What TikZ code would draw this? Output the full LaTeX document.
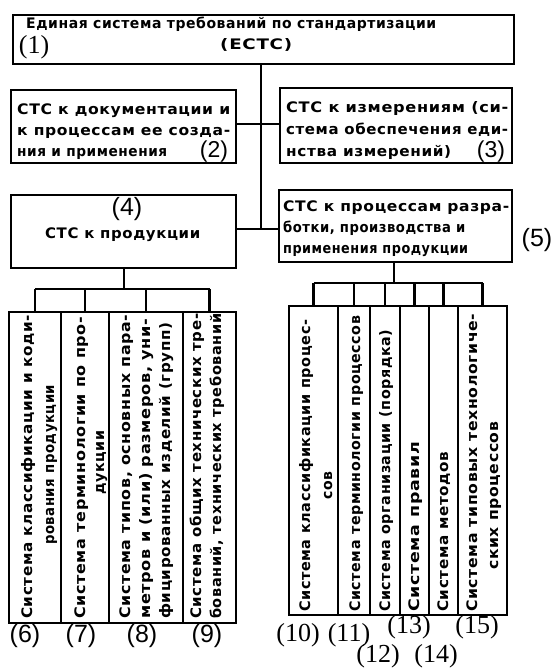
\documentclass[tikz,border=0pt]{standalone}
\usepackage{fontspec}
\usepackage{graphicx}
\setmainfont{DejaVu Sans}
\newfontfamily\txf[LetterSpace=4]{DejaVu Sans}
\newfontfamily\numf{Liberation Sans}
\newfontfamily\numsf{Liberation Serif}
\newcommand\fitl[2]{\resizebox{#1pt}{\height}{#2}}
\begin{document}
\begin{tikzpicture}[x=1pt,y=-1pt,
  box/.style={draw,line width=2.4pt,inner sep=0pt},
  conn/.style={line width=2.1pt},
  tl/.style={anchor=base west,inner sep=0pt,font=\txf\bfseries\fontsize{14.5}{14.5}\selectfont},
  tv/.style={tl,rotate=90},
  num/.style={inner sep=0pt,font=\numf\fontsize{25}{25}\selectfont},
  numin/.style={inner sep=0pt,font=\numf\fontsize{23}{23}\selectfont},
  nums/.style={inner sep=0pt,font=\numsf\fontsize{26}{26}\selectfont}]
\useasboundingbox[fill=white] (0,0) rectangle (555,671);
% boxes
\node[box,minimum width=501pt,minimum height=49pt] (top) at (263.5,39.5) {};
\node[box,minimum width=225pt,minimum height=73pt] (b2) at (123.5,126.5) {};
\node[box,minimum width=232pt,minimum height=75pt] (b3) at (396,125.5) {};
\node[box,minimum width=225pt,minimum height=73pt] (b4) at (123.5,231.5) {};
\node[box,minimum width=233pt,minimum height=72pt] (b5) at (395.5,226) {};
\node[box,minimum width=52pt,minimum height=311pt] (v6) at (35,467.5) {};
\node[box,minimum width=48pt,minimum height=311pt] (v7) at (85,467.5) {};
\node[box,minimum width=74pt,minimum height=311pt] (v8) at (146,467.5) {};
\node[box,minimum width=53pt,minimum height=311pt] (v9) at (209.5,467.5) {};
\node[box,minimum width=49pt,minimum height=309pt] (v10) at (313.5,460.5) {};
\node[box,minimum width=32pt,minimum height=309pt] (v11) at (354,460.5) {};
\node[box,minimum width=30pt,minimum height=309pt] (v12) at (385,460.5) {};
\node[box,minimum width=29pt,minimum height=309pt] (v13) at (414.5,460.5) {};
\node[box,minimum width=29pt,minimum height=309pt] (v14) at (443.5,460.5) {};
\node[box,minimum width=49pt,minimum height=309pt] (v15) at (482.5,460.5) {};
% connectors
\coordinate (c23) at (261,124);
\coordinate (c45) at (261,229);
\coordinate (lb) at (124,289);
\coordinate (rb) at (394,283);
\draw[conn] (top.south -| c45) -- (c45);
\draw[conn] (b2.east |- c23) -- (b3.west |- c23);
\draw[conn] (b4.east |- c45) -- (b5.west |- c45);
\draw[conn] (b4.south -| lb) -- (lb);
\draw[conn] (v6.north |- lb) -- (v9.north |- lb);
\foreach \v in {v6,v7,v8,v9} \draw[conn] (\v.north |- lb) -- (\v.north);
\draw[conn] (b5.south -| rb) -- (rb);
\draw[conn] (v10.north |- rb) -- (v15.north |- rb);
\foreach \v in {v10,v11,v12,v13,v14,v15} \draw[conn] (\v.north |- rb) -- (\v.north);
% top box text
\node[tl] (t1a) at (26,29) {\fitl{410}{Единая система требований по стандартизации}};
\node[tl] (t1b) at (220,50) {\fitl{72}{(ЕСТС)}};
\node[nums] (n1) at (34,47) {(1)};
% box 2
\node[tl] (t2a) at (17,115) {\fitl{213}{СТС к документации и}};
\node[tl] (t2b) at (17,136) {\fitl{213}{к процессам ее созда-}};
\node[tl] (t2c) at (17,157) {\fitl{150}{ния и применения}};
\node[numin] (n2) at (214,152) {(2)};
% box 3
\node[tl] (t3a) at (286,113) {\fitl{222}{СТС к измерениям (си-}};
\node[tl] (t3b) at (286,135) {\fitl{222}{стема обеспечения еди-}};
\node[tl] (t3c) at (286,157) {\fitl{165}{нства измерений)}};
\node[numin] (n3) at (491,152) {(3)};
% box 4
\node[num] (n4) at (127,209) {(4)};
\node[tl] (t4) at (45,238) {\fitl{155}{СТС к продукции}};
% box 5
\node[tl] (t5a) at (283,211) {\fitl{226}{СТС к процессам разра-}};
\node[tl] (t5b) at (283,232) {\fitl{182}{ботки, производства и}};
\node[tl] (t5c) at (283,253) {\fitl{185}{применения продукции}};
\node[num] (n5) at (537,240) {(5)};
% vertical texts left
\node[tv] (t6a) at (32,619) {\fitl{304}{Система классификации и коди-}};
\node[tv] (t6b) at (54,545) {\fitl{160}{рования продукции}};
\node[tv] (t7a) at (85,619) {\fitl{302}{Система терминологии по про-}};
\node[tv] (t7b) at (104,495) {\fitl{64}{дукции}};
\node[tv] (t8a) at (130,619) {\fitl{304}{Система типов, основных пара-}};
\node[tv] (t8b) at (150,619) {\fitl{300}{метров и (или) размеров, уни-}};
\node[tv] (t8c) at (170,619) {\fitl{296}{фицированных изделий (групп)}};
\node[tv] (t9a) at (201,619) {\fitl{305}{Система общих технических тре-}};
\node[tv] (t9b) at (221,619) {\fitl{305}{бований, технических требований}};
% vertical texts right
\node[tv] (t10a) at (310,612) {\fitl{292}{Система классификации процес-}};
\node[tv] (t10b) at (332,500) {\fitl{28}{сов}};
\node[tv] (t11) at (360,612) {\fitl{296}{Система терминологии процессов}};
\node[tv] (t12) at (390,612) {\fitl{282}{Система организации (порядка)}};
\node[tv] (t13) at (419,612) {\fitl{170}{Система правил}};
\node[tv] (t14) at (448,612) {\fitl{160}{Система методов}};
\node[tv] (t15a) at (477,612) {\fitl{298}{Система типовых технологиче-}};
\node[tv] (t15b) at (498,570) {\fitl{148}{ских процессов}};
% bottom labels
\node[num] (n6) at (25,636) {(6)};
\node[num] (n7) at (81,636) {(7)};
\node[num] (n8) at (142,636) {(8)};
\node[num] (n9) at (207,636) {(9)};
\node[nums] (n10) at (298,635) {(10)};
\node[nums] (n11) at (349,635) {(11)};
\node[nums] (n13) at (409,627) {(13)};
\node[nums] (n15) at (477,627) {(15)};
\node[nums] (n12) at (378,656) {(12)};
\node[nums] (n14) at (436,656) {(14)};
\end{tikzpicture}
\end{document}
